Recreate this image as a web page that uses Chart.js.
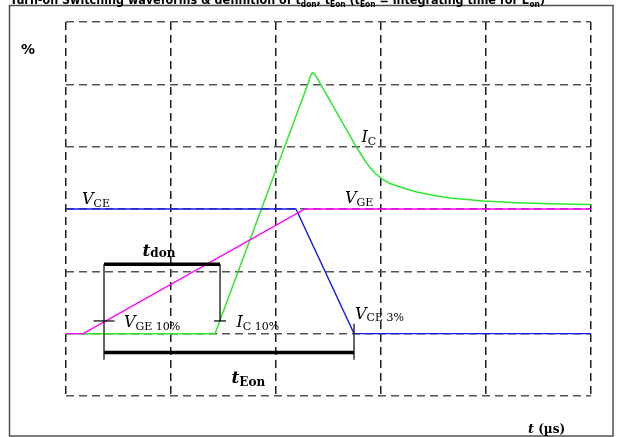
<!DOCTYPE html>
<html>
<head>
<meta charset="utf-8">
<script src="https://cdn.jsdelivr.net/npm/chart.js@4.4.0/dist/chart.umd.min.js"></script>
<style>
  html, body { margin: 0; padding: 0; background: #fff; }
  #wrap { width: 624px; height: 437px; }
</style>
</head>
<body>
<div id="wrap"><canvas id="switchChart" width="624" height="437"></canvas></div>
<script>
// time in grid divisions (0..5), amplitude in % of steady state
const xTicks = [0, 1, 2, 3, 4, 5];
const yTicks = [-50, 0, 50, 100, 150, 200, 250];

const vgeT = [0, 0.165, 2.276, 5];
const vgeV = [0, 0, 100, 100];

const vceT = [0, 2.19, 2.743, 5];
const vceV = [100, 100, 0, 0];

const icT = [0, 1.419, 2.305, 2.329, 2.348, 2.371, 2.4, 2.762, 2.819, 2.857, 2.895, 2.943,
             3.016, 3.086, 3.181, 3.34, 3.495, 3.657, 3.974, 4.292, 4.61, 5];
const icV = [0, 0, 200.5, 207, 209.4, 207.7, 203.7, 150.2, 142.5, 137.6, 133.2, 128.7,
             123.8, 120.5, 117.7, 113.7, 111.0, 108.8, 106.4, 105.1, 104.3, 103.7];

// measuring points for t_don / t_Eon
const tGe10 = 0.362;    // V_GE at 10 %
const tIc10 = 1.467;    // I_C at 10 %
const tVce3 = 2.743;    // V_CE at 3 %
const level10 = 10.2;
const vce3Level = 8;
const tdonLevel = 55.6;
const teonLevel = -15.2;
const footLevel = -21;

function pts(xs, ys) {
    return xs.map((x, i) => ({ x: x, y: ys[i] }));
}

function marker(data, width) {
    return {
        data: data,
        borderColor: "#000000",
        borderWidth: width,
        pointRadius: 0,
        fill: false,
        order: 0
    };
}

// frame and title
const framePlugin = {
    id: "frame",
    beforeDraw(chart) {
        const ctx = chart.ctx;
        ctx.save();
        ctx.fillStyle = "#ffffff";
        ctx.fillRect(0, 0, chart.width, chart.height);
        ctx.strokeStyle = "#505050";
        ctx.lineWidth = 1.5;
        ctx.strokeRect(9.5, 5.5, 603.5, 430.5);

        const parts = [
            ["Turn-on Switching waveforms & definition of t", 0], ["don", 1], [", t", 0], ["Eon", 1],
            [" (t", 0], ["Eon", 1], [" = integrating time for E", 0], ["on", 1], [")", 0]
        ];
        const big = 'bold 12px "DejaVu Sans"';
        const small = 'bold 8px "DejaVu Sans"';
        let total = 0;
        parts.forEach(p => { ctx.font = p[1] ? small : big; total += ctx.measureText(p[0]).width; });
        ctx.translate(10, 0);
        ctx.scale(535 / total, 1);
        ctx.fillStyle = "#000000";
        let cx = 0;
        parts.forEach(p => {
            ctx.font = p[1] ? small : big;
            ctx.fillText(p[0], cx, p[1] ? 6.5 : 3.5);
            cx += ctx.measureText(p[0]).width;
        });
        ctx.restore();
    }
};

const F = {
    it: 'italic 16px "DejaVu Serif"',
    sub: '11px "DejaVu Serif"',
    bit: 'bold italic 17px "DejaVu Serif"',
    bsub: 'bold 12px "DejaVu Serif"',
    pct: 'bold 14px "DejaVu Sans"',
    axis: 'bold 12px "DejaVu Serif"',
    axisT: 'bold italic 13px "DejaVu Serif"'
};

const textItems = [
    [21, 54, [["%", "pct", 0]]],
    [82, 204, [["V", "it", 0], ["CE", "sub", 3]]],
    [345, 202.5, [["V", "it", 0], ["GE", "sub", 3]]],
    [361.5, 141.5, [["I", "it", 0], ["C", "sub", 3]]],
    [142.5, 256, [["t", "bit", 0], ["don", "bsub", 1]]],
    [124, 327, [["V", "it", 0], ["GE 10%", "sub", 2.5]]],
    [236.5, 327, [["I", "it", 0], ["C 10%", "sub", 2.5]]],
    [355, 318.5, [["V", "it", 0], ["CE 3%", "sub", 2.5]]],
    [231.5, 382.5, [["t", "bit", 0], ["Eon", "bsub", 3]]],
    [528, 433, [["t", "axisT", 0], [" (µs)", "axis", 0]]]
];

const labelPlugin = {
    id: "labels",
    afterDraw(chart) {
        const ctx = chart.ctx;
        ctx.save();
        ctx.fillStyle = "#000000";
        ctx.textBaseline = "alphabetic";
        textItems.forEach(item => {
            let cx = item[0];
            item[2].forEach(p => {
                ctx.font = F[p[1]];
                ctx.fillText(p[0], cx, item[1] + p[2]);
                cx += ctx.measureText(p[0]).width;
            });
        });
        ctx.restore();
    }
};

const ctx = document.getElementById("switchChart").getContext("2d");
new Chart(ctx, {
    type: "line",
    data: {
        datasets: [
            marker([{ x: tGe10, y: tdonLevel }, { x: tIc10, y: tdonLevel }], 3.5),
            marker([{ x: tGe10, y: teonLevel }, { x: tVce3, y: teonLevel }], 3.5),
            marker([{ x: tGe10, y: tdonLevel }, { x: tGe10, y: footLevel }], 1.2),
            marker([{ x: tIc10, y: tdonLevel }, { x: tIc10, y: level10 }], 1.2),
            marker([{ x: tVce3, y: vce3Level }, { x: tVce3, y: footLevel }], 1.2),
            marker([{ x: tGe10 - 0.1, y: level10 }, { x: tGe10 + 0.1, y: level10 }], 1.2),
            marker([{ x: tIc10 - 0.057, y: level10 }, { x: tIc10 + 0.057, y: level10 }], 1.2),
            {
                label: "VGE",
                data: pts(vgeT, vgeV),
                borderColor: "#ff00ff",
                borderWidth: 1.4,
                pointRadius: 0,
                order: 1
            },
            {
                label: "VCE",
                data: pts(vceT, vceV),
                borderColor: "#1a1ae6",
                borderWidth: 1.4,
                pointRadius: 0,
                order: 2
            },
            {
                label: "IC",
                data: pts(icT, icV),
                borderColor: "#2ee82e",
                borderWidth: 1.5,
                pointRadius: 0,
                order: 3
            }
        ]
    },
    options: {
        responsive: false,
        animation: false,
        devicePixelRatio: 1,
        events: [],
        layout: { padding: { left: 66, right: 33, top: 22, bottom: 41 } },
        elements: { line: { tension: 0 } },
        plugins: { legend: { display: false }, tooltip: { enabled: false } },
        scales: {
            x: {
                type: "linear",
                min: xTicks[0],
                max: xTicks[xTicks.length - 1],
                afterBuildTicks: axis => { axis.ticks = xTicks.map(v => ({ value: v })); },
                ticks: { display: false },
                grid: { color: "#1e1e1e", lineWidth: 1.5, drawTicks: false },
                border: { display: false, dash: [8, 5] }
            },
            y: {
                type: "linear",
                min: yTicks[0],
                max: yTicks[yTicks.length - 1],
                afterBuildTicks: axis => { axis.ticks = yTicks.map(v => ({ value: v })); },
                ticks: { display: false },
                grid: { color: "#555555", lineWidth: 1.5, drawTicks: false },
                border: { display: false, dash: [8, 5] }
            }
        }
    },
    plugins: [framePlugin, labelPlugin]
});
</script>
</body>
</html>
